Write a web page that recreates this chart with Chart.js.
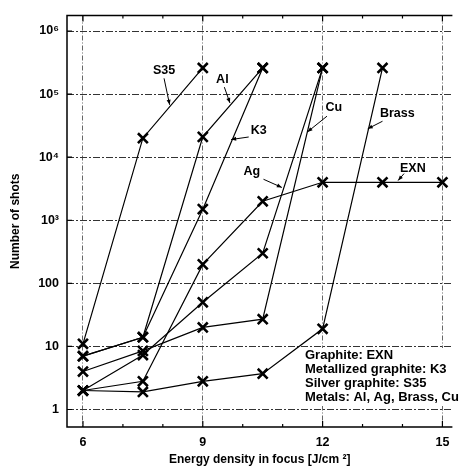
<!DOCTYPE html>
<html><head><meta charset="utf-8">
<script src="https://cdn.jsdelivr.net/npm/chart.js@4.4.0/dist/chart.umd.min.js"></script>
<style>html,body{margin:0;padding:0;background:#fff;overflow:hidden;}canvas{display:block;}</style>
</head><body>
<canvas id="c" width="462" height="473"></canvas>
<script>
// ---- data ----
const energies = [6, 7.5, 9, 10.5, 12, 13.5, 15];
const s35   = [11, 20000, 260000, null, null, null, null];
const al    = [7, 14, 21000, 260000, null, null, null];
const k3    = [7, 14, 1500, 260000, null, null, null];
const cu    = [4, 8.5, 20, 27, 260000, null, null];
const ag    = [2, 7.3, 50, 300, 260000, null, null];
const brass = [2, 1.9, 2.8, 3.7, 19, 260000, null];
const exn   = [2, 2.8, 200, 2000, 4000, 4000, 4000];
const seriesNames = ['S35', 'Al', 'K3', 'Cu', 'Ag', 'Brass', 'EXN'];
const seriesValues = [s35, al, k3, cu, ag, brass, exn];

const xTickValues = [6, 7, 8, 9, 10, 11, 12, 13, 14, 15];
const xLabelValues = [6, 9, 12, 15];
const yTickValues = [1, 10, 100, 1000, 10000, 100000, 1000000];
const yTickLabels = ['1', '10', '100', '10\u00B3', '10\u2074', '10\u2075', '10\u2076'];
const legendLines = ['Graphite: EXN', 'Metallized graphite: K3', 'Silver graphite: S35', 'Metals: Al, Ag, Brass, Cu'];
const xTitle = 'Energy density in focus [J/cm \u00B2]';
const yTitle = 'Number of shots';

// callout labels: text position and arrow (data coords, y given as log10)
const callouts = [
  {text: 'S35',   tx: 8.03,  ty: 5.37, ax: 8.03,  ay: 5.25, bx: 8.17,  by: 4.83},
  {text: 'Al',    tx: 9.49,  ty: 5.23, ax: 9.54,  ay: 5.11, bx: 9.68,  by: 4.86},
  {text: 'K3',    tx: 10.40, ty: 4.43, ax: 10.15, ay: 4.32, bx: 9.71,  by: 4.28},
  {text: 'Cu',    tx: 12.28, ty: 4.785, ax: 12.11, ay: 4.65, bx: 11.62, by: 4.40},
  {text: 'Brass', tx: 13.87, ty: 4.69, ax: 13.50, ay: 4.57, bx: 13.13, by: 4.45},
  {text: 'EXN',   tx: 14.26, ty: 3.815, ax: 14.04, ay: 3.74, bx: 13.89, by: 3.63},
  {text: 'Ag',    tx: 10.23, ty: 3.77, ax: 10.52, ay: 3.65, bx: 10.98, by: 3.52}
];

const FONT = "'Liberation Sans', Arial, Helvetica, sans-serif";

const datasets = seriesNames.map((name, k) => ({
  label: name,
  data: energies.map((x, i) => ({x: x, y: seriesValues[k][i]})).filter(p => p.y !== null),
  borderColor: '#000',
  backgroundColor: '#000',
  borderWidth: 1.2,
  pointStyle: 'crossRot',
  pointRadius: 7,
  pointBorderWidth: 2.6,
  pointBorderColor: '#000',
  fill: false,
  tension: 0
}));

const overlay = {
  id: 'overlay',
  beforeDatasetsDraw(chart) {
    const ctx = chart.ctx;
    ctx.save();
    ctx.fillStyle = '#fff';
    ctx.fillRect(300, 348, 162, 58);
    ctx.restore();
  },
  afterDatasetsDraw(chart) {
    const ctx = chart.ctx;
    const a = chart.chartArea;
    const xs = chart.scales.x, ys = chart.scales.y;
    ctx.save();
    // frame (right side is cropped off in the reference)
    ctx.strokeStyle = '#000';
    ctx.lineWidth = 1.5;
    ctx.beginPath();
    ctx.moveTo(a.right, a.top); ctx.lineTo(a.left, a.top);
    ctx.lineTo(a.left, a.bottom); ctx.lineTo(a.right, a.bottom);
    ctx.stroke();
    // inward ticks
    ctx.lineWidth = 1.2;
    ctx.beginPath();
    xTickValues.forEach(v => {
      const px = xs.getPixelForValue(v);
      const len = xLabelValues.includes(v) ? 6 : 3;
      ctx.moveTo(px, a.bottom); ctx.lineTo(px, a.bottom - len);
      ctx.moveTo(px, a.top); ctx.lineTo(px, a.top + len);
    });
    yTickValues.forEach(v => {
      const py = ys.getPixelForValue(v);
      ctx.moveTo(a.left, py); ctx.lineTo(a.left + 5, py);
    });
    ctx.stroke();
    // legend text block
    ctx.fillStyle = '#000';
    ctx.font = 'bold 13px ' + FONT;
    ctx.textAlign = 'left';
    ctx.textBaseline = 'middle';
    legendLines.forEach((t, i) => ctx.fillText(t, 305, 355 + i * 14));
    // callouts
    ctx.font = 'bold 12.5px ' + FONT;
    callouts.forEach(c => {
      const tx = xs.getPixelForValue(c.tx), ty = ys.getPixelForValue(Math.pow(10, c.ty));
      const ax = xs.getPixelForValue(c.ax), ay = ys.getPixelForValue(Math.pow(10, c.ay));
      const bx = xs.getPixelForValue(c.bx), by = ys.getPixelForValue(Math.pow(10, c.by));
      ctx.textAlign = 'center';
      ctx.fillText(c.text, tx, ty);
      ctx.lineWidth = 1;
      ctx.beginPath(); ctx.moveTo(ax, ay); ctx.lineTo(bx, by); ctx.stroke();
      const ang = Math.atan2(by - ay, bx - ax);
      const L = 5, W = 2;
      ctx.beginPath();
      ctx.moveTo(bx, by);
      ctx.lineTo(bx - L * Math.cos(ang) + W * Math.sin(ang), by - L * Math.sin(ang) - W * Math.cos(ang));
      ctx.lineTo(bx - L * Math.cos(ang) - W * Math.sin(ang), by - L * Math.sin(ang) + W * Math.cos(ang));
      ctx.closePath(); ctx.fill();
    });
    ctx.restore();
  }
};

new Chart(document.getElementById('c'), {
  type: 'line',
  data: {datasets: datasets},
  plugins: [overlay],
  options: {
    responsive: false,
    animation: false,
    devicePixelRatio: 1,
    layout: {padding: {top: 3, right: 0, left: 0, bottom: 0}},
    plugins: {legend: {display: false}, tooltip: {enabled: false}},
    scales: {
      x: {
        type: 'linear', min: 5.6, max: 15.25,
        afterBuildTicks: s => { s.ticks = xTickValues.map(v => ({value: v})); },
        afterFit: s => { s.height = 46; s.paddingLeft = 0; s.paddingRight = 0; },
        ticks: {
          autoSkip: false, maxRotation: 0, padding: 8, color: '#000',
          font: {family: FONT, size: 12.5, weight: 'bold'},
          callback: v => xLabelValues.includes(v) ? String(v) : ''
        },
        grid: {
          drawTicks: false, lineWidth: 1,
          color: c => (c.tick && xLabelValues.includes(c.tick.value)) ? '#666' : 'rgba(0,0,0,0)'
        },
        border: {display: false, dash: [5, 2, 1, 2]},
        title: {display: true, text: xTitle, color: '#000', padding: {top: 0, bottom: 6},
                font: {family: FONT, size: 12, weight: 'bold'}}
      },
      y: {
        type: 'logarithmic', min: 0.528, max: 1.762e6,
        afterBuildTicks: s => { s.ticks = yTickValues.map(v => ({value: v})); },
        afterFit: s => { s.width = 67; },
        ticks: {
          autoSkip: false, padding: 8, color: '#000',
          font: {family: FONT, size: 12.5, weight: 'bold'},
          callback: v => { const i = yTickValues.indexOf(v); return i >= 0 ? yTickLabels[i] : ''; }
        },
        grid: {drawTicks: false, lineWidth: 1, color: '#333'},
        border: {display: false, dash: [7, 2, 2, 2]},
        title: {display: true, text: yTitle, color: '#000', padding: {top: 8, bottom: 0},
                font: {family: FONT, size: 12, weight: 'bold'}}
      }
    }
  }
});
</script>
</body></html>
